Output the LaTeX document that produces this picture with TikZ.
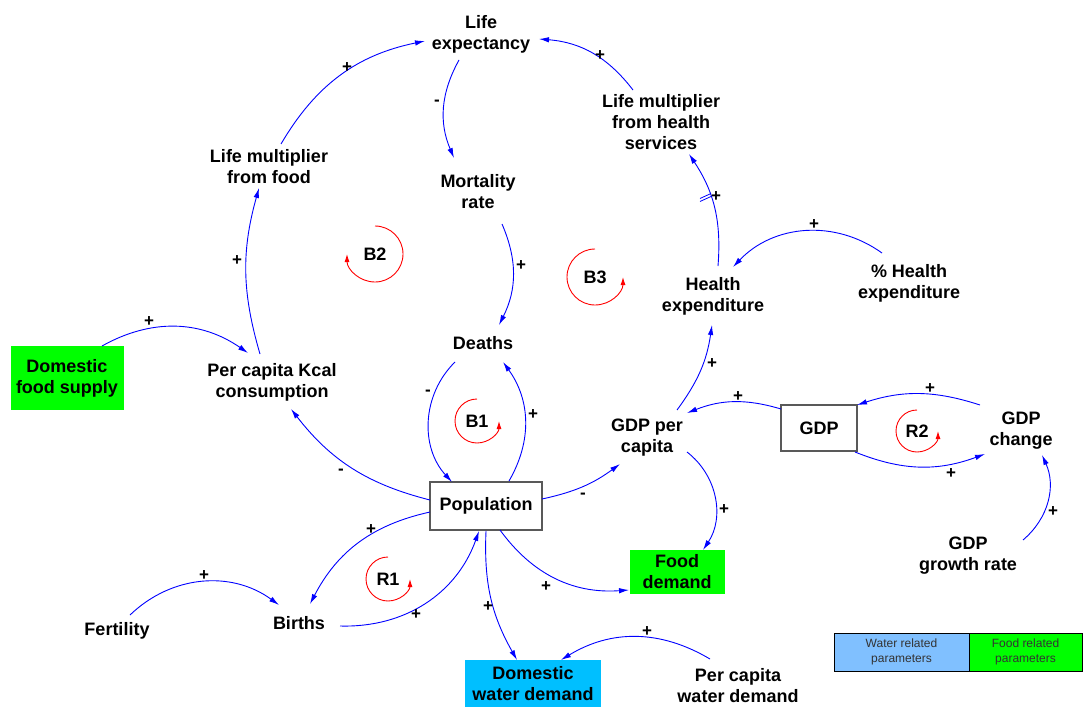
\documentclass[tikz,border=0pt]{standalone}
\usepackage{fontspec}
\setmainfont{Liberation Sans}
\usetikzlibrary{arrows.meta}
\definecolor{waterblue}{RGB}{0,191,255}
\definecolor{legendblue}{RGB}{128,192,255}
\definecolor{foodgreen}{RGB}{0,255,0}

\begin{document}
\begin{tikzpicture}[
  x=1pt, y=-1pt,
  font=\bfseries\fontsize{18}{21}\selectfont,
  var/.style={align=center, inner sep=2pt},
  stock/.style={draw=black!65, line width=1.2pt, fill=white, align=center},
  foodbox/.style={fill=foodgreen, align=center, inner sep=2pt},
  waterbox/.style={fill=waterblue, align=center, inner sep=2pt},
  legbox/.style={draw=black, line width=1pt, minimum height=38pt, align=center, font=\fontsize{12}{15}\selectfont, text=black!80},
  link/.style={blue, line width=0.9pt, -{Latex[length=10pt,width=5.5pt]}},
  pol/.style={text=black, inner sep=0pt, font=\bfseries\fontsize{17}{17}\selectfont},
  loopar/.style={red, line width=0.9pt, -{Latex[length=8pt,width=5pt]}}
]
  \useasboundingbox (0,0) rectangle (1083,706);

  % variables
  \node[var] (le) at (481,34) {Life\\expectancy};
  \node[var] (mr) at (478,192) {Mortality\\rate};
  \node[var] (lmf) at (269,167) {Life multiplier\\from food};
  \node[var] (lmh) at (661,122) {Life multiplier\\from health\\services};
  \node[var] (he) at (713,296) {Health\\expenditure};
  \node[var] (phe) at (909,283) {\% Health\\expenditure};
  \node[var] (de) at (483,343) {Deaths};
  \node[var] (kcal) at (272,382) {Per capita Kcal\\consumption};
  \node[foodbox, minimum width=113pt, minimum height=64pt] (dfs) at (67,378) {Domestic\\food supply};
  \node[stock, minimum width=112pt, minimum height=48pt] (pop) at (486,506) {Population};
  \node[var] (gpc) at (647,438) {GDP per\\capita};
  \node[stock, minimum width=76pt, minimum height=46pt] (gdp) at (819,428) {GDP};
  \node[var] (gch) at (1021,431) {GDP\\change};
  \node[var] (ggr) at (968,556) {GDP\\growth rate};
  \node[foodbox, minimum width=95pt, minimum height=44pt] (fd) at (677,572) {Food\\demand};
  \node[var] (fer) at (117,631) {Fertility};
  \node[var] (bi) at (299,623) {Births};
  \node[waterbox, minimum width=136pt, minimum height=48pt] (dwd) at (533,684) {Domestic\\water demand};
  \node[var] (pwd) at (738,686) {Per capita\\water demand};

  % legend
  \node[legbox, fill=legendblue, minimum width=135pt] (legw) at (901.5,652) {Water related\\parameters};
  \node[legbox, fill=foodgreen, minimum width=113pt] (legf) at (1025.5,652) {Food related\\parameters};

  % loop markers
  \node[var] (b2) at (375,254) {B2};
  \node[var] (b3) at (595,277) {B3};
  \node[var] (b1) at (477,421) {B1};
  \node[var] (r1) at (388,579) {R1};
  \node[var] (r2) at (917,431) {R2};
  \draw[loopar] ([shift={(90:28pt)}]b2.center) arc[start angle=90, end angle=-180, radius=28pt];
  \draw[loopar] ([shift={(90:28pt)}]b3.center) arc[start angle=90, end angle=360, radius=28pt];
  \draw[loopar] ([shift={(90:22pt)}]b1.center) arc[start angle=90, end angle=360, radius=22pt];
  \draw[loopar] ([shift={(90:22pt)}]r1.center) arc[start angle=90, end angle=360, radius=22pt];
  \draw[loopar] ([shift={(90:21pt)}]r2.center) arc[start angle=90, end angle=360, radius=21pt];

  % links
  \draw[link] ([shift={(12,-23)}]lmf.center) to[bend left=24] ([shift={(-56,7)}]le.center)
    node[pol] at (347,68) {+};
  \draw[link] ([shift={(-22,26)}]le.center) to[bend right=26] ([shift={(-24,-34)}]mr.center)
    node[pol] at (437,103) {-};
  \draw[link] ([shift={(24,32)}]mr.center) to[bend left=25] ([shift={(16,-18)}]de.center)
    node[pol] at (521,266) {+};
  \draw[link] ([shift={(-12,-28)}]kcal.center) to[bend left=16] ([shift={(-10,21)}]lmf.center)
    node[pol] at (237,261) {+};
  \draw[link] ([shift={(35,-32)}]dfs.center) to[bend left=32] ([shift={(-24,-29)}]kcal.center)
    node[pol] at (149,322) {+};
  \draw[link] ([shift={(-28,-32)}]lmh.center) to[bend right=24] ([shift={(58,5)}]le.center)
    node[pol] at (600,56) {+};
  \draw[link] ([shift={(5,-30)}]he.center) to[bend right=19] ([shift={(28,32)}]lmh.center)
    node[pol] at (716,197) {+};
  \draw[blue, line width=0.8pt] (700,201.5) -- (711,196.5) (700,198.5) -- (711,193.5);
  \draw[link] ([shift={(-27,-30)}]phe.center) to[bend right=41] ([shift={(20,-29)}]he.center)
    node[pol] at (814,225) {+};
  \draw[link] ([shift={(30,-28)}]gpc.center) to[bend right=14] ([shift={(-1,29)}]he.center)
    node[pol] at (712,364) {+};
  \draw[link] ([shift={(-38,-19)}]gdp.center) to[bend right=19] ([shift={(40,-25)}]gpc.center)
    node[pol] at (738,397) {+};
  \draw[link] ([shift={(-41,-26)}]gch.center) to[bend right=18] ([shift={(38,-23)}]gdp.center)
    node[pol] at (930,389) {+};
  \draw[link] ([shift={(36,24)}]gdp.center) to[bend right=21] ([shift={(-36,23)}]gch.center)
    node[pol] at (951,474) {+};
  \draw[link] ([shift={(55,-16)}]ggr.center) to[bend right=37] ([shift={(21,24)}]gch.center)
    node[pol] at (1053,512) {+};
  \draw[link] ([shift={(40,14)}]gpc.center) to[bend left=43] ([shift={(26,-22)}]fd.center)
    node[pol] at (724,510) {+};
  \draw[link] ([shift={(14,24)}]pop.center) to[bend right=29] ([shift={(-48,18)}]fd.center)
    node[pol] at (546,587) {+};
  \draw[link] ([shift={(0,25)}]pop.center) to[bend right=16] ([shift={(-16,-24)}]dwd.center)
    node[pol] at (488,607) {+};
  \draw[link] ([shift={(-28,-27)}]pwd.center) to[bend right=31] ([shift={(28,-24)}]dwd.center)
    node[pol] at (647,632) {+};
  \draw[link] ([shift={(-56,-6)}]pop.center) to[bend left=19] ([shift={(19,27)}]kcal.center)
    node[pol] at (341,472) {-};
  \draw[link] ([shift={(-28,19)}]de.center) to[bend right=44] ([shift={(-34,-24)}]pop.center)
    node[pol] at (428,393) {-};
  \draw[link] ([shift={(23,-25)}]pop.center) to[bend right=33] ([shift={(20,19)}]de.center)
    node[pol] at (533,415) {+};
  \draw[link] ([shift={(-56,6)}]pop.center) to[bend right=25] ([shift={(11,-19)}]bi.center)
    node[pol] at (371,530) {+};
  \draw[link] ([shift={(41,3)}]bi.center) to[bend right=36] ([shift={(-7,25)}]pop.center)
    node[pol] at (416,615) {+};
  \draw[link] ([shift={(13,-16)}]fer.center) to[bend left=40] ([shift={(-20,-18)}]bi.center)
    node[pol] at (204,576) {+};
  \draw[link] ([shift={(56,-7)}]pop.center) to[bend right=12] ([shift={(-27,26)}]gpc.center)
    node[pol] at (583,496) {-};
\end{tikzpicture}
\end{document}
